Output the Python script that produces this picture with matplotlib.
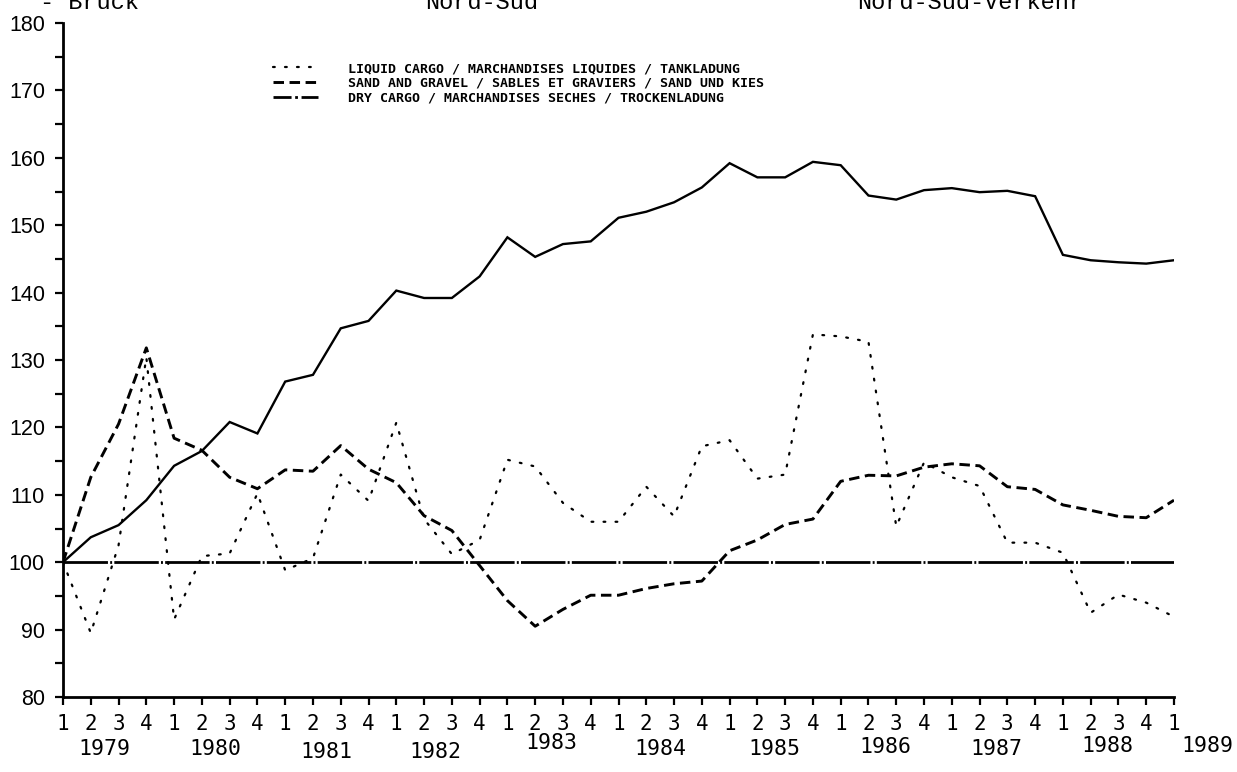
import matplotlib
matplotlib.use("Agg")
import matplotlib.pyplot as plt
from matplotlib.lines import Line2D
from matplotlib.ticker import MultipleLocator, FixedLocator

# ---------------- data ----------------
quarter_labels = ["1", "2", "3", "4"] * 10 + ["1"]
year_labels = ["1979", "1980", "1981", "1982", "1983", "1984",
               "1985", "1986", "1987", "1988", "1989"]

total = [100.0, 103.7, 105.5, 109.2, 114.3, 116.5, 120.8, 119.1, 126.8, 127.8,
         134.7, 135.8, 140.3, 139.2, 139.2, 142.4, 148.2, 145.3, 147.2, 147.6,
         151.1, 152.0, 153.4, 155.6, 159.2, 157.1, 157.1, 159.4, 158.9, 154.4,
         153.8, 155.2, 155.5, 154.9, 155.1, 154.3, 145.6, 144.8, 144.5, 144.3,
         144.8]

liquid_cargo = [100.0, 89.5, 102.5, 130.4, 91.5, 100.9, 101.3, 110.2, 98.8, 100.6,
                113.0, 109.1, 120.7, 106.4, 101.2, 103.3, 115.2, 114.2, 108.8, 106.0,
                106.0, 111.2, 106.8, 117.2, 118.1, 112.4, 113.0, 133.8, 133.5, 132.7,
                105.3, 114.8, 112.6, 111.3, 102.9, 102.9, 101.4, 92.5, 95.2, 94.0,
                91.9]

sand_gravel = [100.0, 112.6, 120.5, 131.8, 118.4, 116.6, 112.6, 110.9, 113.7, 113.5,
               117.3, 113.8, 111.8, 106.9, 104.7, 99.5, 94.3, 90.5, 93.0, 95.1,
               95.1, 96.1, 96.8, 97.2, 101.7, 103.3, 105.6, 106.4, 112.0, 112.9,
               112.8, 114.1, 114.6, 114.3, 111.2, 110.8, 108.5, 107.7, 106.8, 106.6,
               109.2]

dry_cargo = [100.0, 100.0, 100.0, 100.0, 100.0, 100.0, 100.0, 100.0, 100.0, 100.0,
             100.0, 100.0, 100.0, 100.0, 100.0, 100.0, 100.0, 100.0, 100.0, 100.0,
             100.0, 100.0, 100.0, 100.0, 100.0, 100.0, 100.0, 100.0, 100.0, 100.0,
             100.0, 100.0, 100.0, 100.0, 100.0, 100.0, 100.0, 100.0, 100.0, 100.0,
             100.0]

series_names = ["LIQUID CARGO / MARCHANDISES LIQUIDES / TANKLADUNG",
                "SAND AND GRAVEL / SABLES ET GRAVIERS / SAND UND KIES",
                "DRY CARGO / MARCHANDISES SECHES / TROCKENLADUNG"]

header_texts = ["- Brück", "Nord-Süd", "Nord-Süd-Verkehr"]

# ---------------- layout ----------------
W, H = 1237, 772
fig = plt.figure(figsize=(W / 100, H / 100), dpi=100)
ax = fig.add_axes([63 / W, 1 - 697 / H, (1174 - 63) / W, (697 - 23) / H])

x = list(range(len(total)))

ax.plot(x, total, color="black", lw=1.7, solid_joinstyle="miter")
l1, = ax.plot(x, liquid_cargo, color="black", lw=1.6, dashes=(0.8, 4.6),
              dash_capstyle="round", label=series_names[0])
l2, = ax.plot(x, sand_gravel, color="black", lw=2.1, dashes=(3.6, 1.9),
              label=series_names[1])
ax.plot(x, dry_cargo, color="black", lw=2.0, dashes=(16, 0.8, 0.7, 0.8))

# legend handle for the dash-dot series (shorter pattern, as in the key)
h3 = Line2D([], [], color="black", lw=2.0, dashes=(6.5, 1.3, 1.0, 1.3),
            label=series_names[2])

ax.set_xlim(0, 40)
ax.set_ylim(80, 180)

for s in ["top", "right"]:
    ax.spines[s].set_visible(False)
ax.spines["left"].set_linewidth(2.0)
ax.spines["bottom"].set_linewidth(2.0)

# y ticks
ax.yaxis.set_major_locator(MultipleLocator(10))
ax.yaxis.set_minor_locator(MultipleLocator(5))
ax.tick_params(axis="y", which="major", direction="out", length=6, width=1.6,
               pad=7, labelsize=15.5)
ax.tick_params(axis="y", which="minor", direction="out", length=6, width=1.6)
for lab in ax.get_yticklabels():
    lab.set_fontfamily("Liberation Sans")

# x ticks
ax.xaxis.set_major_locator(FixedLocator(x))
ax.set_xticklabels(quarter_labels, fontfamily="DejaVu Sans Mono", fontsize=15)
ax.tick_params(axis="x", which="major", direction="out", length=6, width=1.6,
               pad=6)

# year labels
year_pos = [1.5, 5.5, 9.5, 13.4, 17.6, 21.5, 25.6, 29.6, 33.6, 37.6, 41.2]
year_y = [0.022, 0.022, 0.018, 0.018, 0.030, 0.022, 0.022, 0.024, 0.022, 0.026, 0.026]
for lab, xp, yp in zip(year_labels, year_pos, year_y):
    ax.annotate(lab, xy=(xp, yp), xycoords=("data", "figure fraction"),
                ha="center", va="baseline", fontsize=15.5,
                fontfamily="DejaVu Sans Mono", annotation_clip=False)

# legend
leg = ax.legend(handles=[l1, l2, h3], loc="upper left",
                bbox_to_anchor=(273 / W, 1 - 62 / H),
                bbox_transform=fig.transFigure, frameon=False,
                borderpad=0, borderaxespad=0, handlelength=3.4,
                handletextpad=2.3, labelspacing=0.12,
                prop={"family": "DejaVu Sans Mono", "weight": "bold",
                      "size": 9.5})

# header (cut off at the top of the page, as in the scanned original)
hx = [40, 425, 857]
for t, xp in zip(header_texts, hx):
    fig.text(xp / W, 1 - 9 / H, t, ha="left", va="baseline",
             fontfamily="Liberation Mono", fontsize=17)

fig.savefig("out.png", dpi=100, facecolor="white")
